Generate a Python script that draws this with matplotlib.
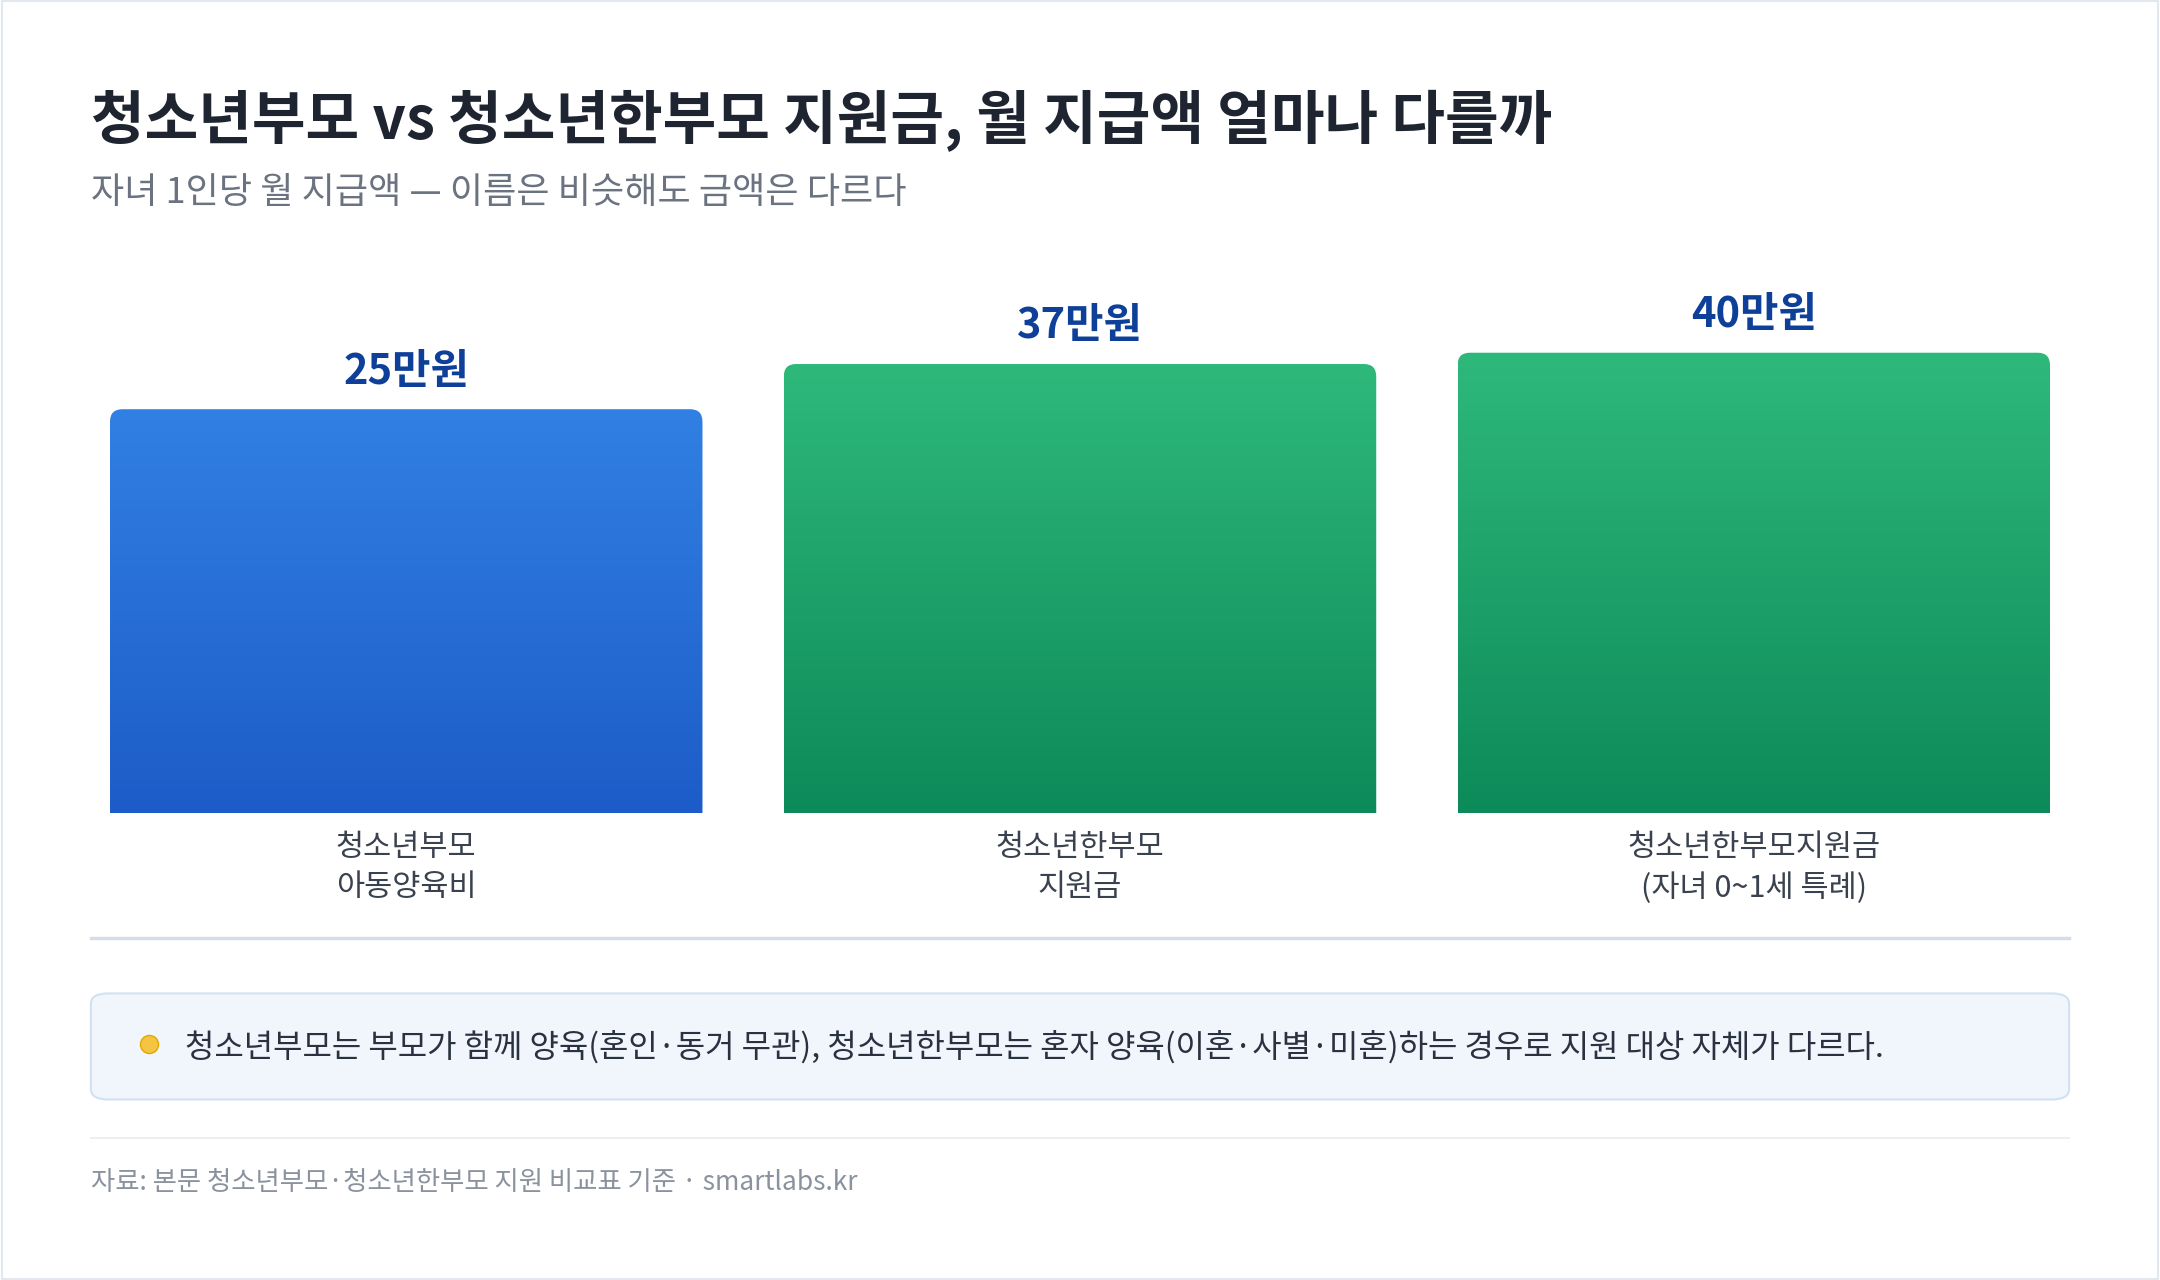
import numpy as np
import matplotlib
matplotlib.use("Agg")
import matplotlib.pyplot as plt
from matplotlib.patches import FancyBboxPatch, Rectangle
from matplotlib.lines import Line2D

plt.rcParams['font.family'] = ['Noto Sans CJK KR', 'DejaVu Sans']

categories = ["청소년부모\n아동양육비", "청소년한부모\n지원금", "청소년한부모지원금\n(자녀 0~1세 특례)"]
values = [25, 37, 40]
value_labels = ["25만원", "37만원", "40만원"]
title = "청소년부모 vs 청소년한부모 지원금, 월 지급액 얼마나 다를까"
subtitle = "자녀 1인당 월 지급액 — 이름은 비슷해도 금액은 다르다"
note = "청소년부모는 부모가 함께 양육(혼인·동거 무관), 청소년한부모는 혼자 양육(이혼·사별·미혼)하는 경우로 지원 대상 자체가 다르다."
source = "자료: 본문 청소년부모·청소년한부모 지원 비교표 기준 · smartlabs.kr"

W, H = 1568, 929
fig = plt.figure(figsize=(21.6, 12.8), dpi=100)
def fx(x): return x / W
def fy(y): return 1 - y / H

fig.patches.append(Rectangle((0.001, 0.001), 0.998, 0.998, transform=fig.transFigure,
                             fill=False, ec="#E3E8EE", lw=1.5))

fig.text(fx(66), fy(88), title, fontsize=42, fontweight='bold', color="#1E2530", va='center')
fig.text(fx(66), fy(140), subtitle, fontsize=26, color="#6B7380", va='center')

top, base_px = 200, 590
ax = fig.add_axes([fx(66), fy(base_px), fx(1502) - fx(66), (base_px - top) / H])
ax.set_axis_off()
ppu = (297 - 256) / 15.0
base = 40 - (base_px - 256) / ppu
ymax = 40 + (256 - top) / ppu
ax.set_xlim(-0.468, 2.468)
ax.set_ylim(base, ymax)
xunit = 489.0
width = 430 / xunit

colors = [("#3180E3", "#1D5CC8"), ("#2EB97B", "#0D8A59"), ("#2EB97B", "#0D8A59")]
for i, (v, (ctop, cbot)) in enumerate(zip(values, colors)):
    x0 = i - width / 2
    c1 = np.array(matplotlib.colors.to_rgb(ctop))
    c2 = np.array(matplotlib.colors.to_rgb(cbot))
    t = np.linspace(0, 1, 256)[:, None]
    grad = (c1 * (1 - t) + c2 * t)[:, None, :]
    im = ax.imshow(grad, extent=(x0, x0 + width, base, v), aspect='auto', origin='upper', zorder=2)
    r = 9 / xunit
    patch = FancyBboxPatch((x0, base - 20), width, v - base + 20,
                           boxstyle=f"round,pad=0,rounding_size={r}",
                           mutation_aspect=(1 / ppu) / (1 / xunit),
                           fc='none', ec='none', transform=ax.transData)
    ax.add_patch(patch)
    im.set_clip_path(patch)
    ax.text(i, v + 12 / ppu, value_labels[i], ha='center', va='bottom',
            fontsize=30, fontweight='bold', color="#0E3F99")
    ax.text(i, base - 14 / ppu, categories[i], ha='center', va='top',
            fontsize=22, color="#3A4250", linespacing=1.35, clip_on=False)

fig.add_artist(Line2D([fx(66), fx(1502)], [fy(681), fy(681)], color="#D5DEE8", lw=2.5))
fig.patches.append(FancyBboxPatch((fx(66), fy(798)), fx(1502) - fx(66), (798 - 721) / H,
                                  boxstyle="round,pad=0,rounding_size=0.008",
                                  transform=fig.transFigure, fc="#F1F6FC", ec="#D2E1F2", lw=1.5))
fig.add_artist(Line2D([fx(108)], [fy(758)], marker='o', ms=13, color="#F5C542", mec="#E0A800"))
fig.text(fx(134), fy(760), note, fontsize=23, color="#2A3140", va='center')
fig.add_artist(Line2D([fx(66), fx(1502)], [fy(826), fy(826)], color="#E8ECF0", lw=1.2))
fig.text(fx(66), fy(858), source, fontsize=19, color="#8A929E", va='center')

fig.savefig("out.png", dpi=100, facecolor="white")
